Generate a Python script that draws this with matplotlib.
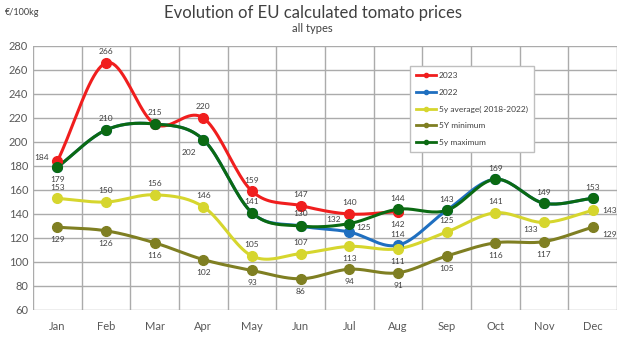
import numpy as np
import matplotlib.pyplot as plt

months = ['Jan', 'Feb', 'Mar', 'Apr', 'May', 'Jun', 'Jul', 'Aug', 'Sep', 'Oct', 'Nov', 'Dec']
prices_2023 = [184, 266, 215, 220, 159, 147, 140, 142]
prices_2022 = [179, 210, 215, 202, 141, 130, 125, 114, 143, 169, 149, 153]
avg_5y = [153, 150, 156, 146, 105, 107, 113, 111, 125, 141, 133, 143]
min_5y = [129, 126, 116, 102, 93, 86, 94, 91, 105, 116, 117, 129]
max_5y = [179, 210, 215, 202, 141, 130, 132, 144, 143, 169, 149, 153]

plt.rcParams['font.family'] = ['Lato', 'DejaVu Sans']


def smooth(y, n=20):
    """ Catmull-Rom curve through the points, for Excel-like smoothed lines """
    y = np.asarray(y, dtype=float)
    x = np.arange(len(y), dtype=float)
    px = np.concatenate([[2 * x[0] - x[1]], x, [2 * x[-1] - x[-2]]])
    py = np.concatenate([[2 * y[0] - y[1]], y, [2 * y[-1] - y[-2]]])
    xs, ys = [], []
    t = np.linspace(0, 1, n, endpoint=False)
    for i in range(1, len(px) - 2):
        for p, out in ((px, xs), (py, ys)):
            p0, p1, p2, p3 = p[i - 1], p[i], p[i + 1], p[i + 2]
            out.extend(0.5 * (2 * p1 + (-p0 + p2) * t
                              + (2 * p0 - 5 * p1 + 4 * p2 - p3) * t ** 2
                              + (-p0 + 3 * p1 - 3 * p2 + p3) * t ** 3))
    xs.append(x[-1]); ys.append(y[-1])
    return np.array(xs), np.array(ys)


fig = plt.figure(figsize=(6.25, 3.42), dpi=100)
ax = fig.add_axes([33 / 625, 32 / 342, 584 / 625, 264 / 342])

series = [
    (prices_2022, '#1F6FC0', '2022'),
    (prices_2023, '#F01E1E', '2023'),
    (avg_5y, '#D6D62E', '5y average( 2018-2022)'),
    (min_5y, '#7F7F22', '5Y minimum'),
    (max_5y, '#0B6A12', '5y maximum'),
]
colors = {}
for vals, col, name in series:
    sx, sy = smooth(vals)
    ax.plot(sx, sy, color=col, lw=2.2, zorder=3, solid_capstyle='round')
    ax.plot(range(len(vals)), vals, 'o', color=col, ms=7, zorder=4)
    colors[name] = col

# data labels: (series, month index, dx, dy) in points
label_spots = [
    (prices_2023, [(0, -11, 3), (1, 0, 8), (2, 0, 8), (3, 0, 8), (4, 0, 8),
                   (5, 0, 8), (6, 0, 8), (7, 0, -9)]),
    (prices_2022, [(6, 10, 3), (7, 0, 8)]),
    (avg_5y, [(0, 0, 8), (1, 0, 8), (2, 0, 8), (3, 0, 8), (4, 0, 8), (5, 0, 8),
              (6, 0, -9), (7, 0, -9), (8, 0, 8), (9, 0, 8), (10, -10, -5),
              (11, 12, 0)]),
    (min_5y, [(0, 0, -9), (1, 0, -9), (2, 0, -9), (3, 0, -9), (4, 0, -9),
              (5, 0, -9), (6, 0, -9), (7, 0, -9), (8, 0, -9), (9, 0, -9),
              (10, 0, -9), (11, 12, -5)]),
    (max_5y, [(0, 0, -9), (1, 0, 8), (3, -10, -9), (4, 0, 8), (5, 0, 9),
              (6, -11, 3), (7, 0, 8), (8, 0, 8), (9, 0, 8), (10, 0, 8),
              (11, 0, 8)]),
]
for vals, spots in label_spots:
    for i, dx, dy in spots:
        ax.annotate(str(vals[i]), (i, vals[i]), xytext=(dx, dy),
                    textcoords='offset points', ha='center', va='center',
                    fontsize=6, color='#404040', zorder=5)

ax.set_xlim(-0.5, 11.5)
ax.set_ylim(60, 280)
ax.set_yticks(np.arange(60, 281, 20))
ax.set_xticks(range(12))
ax.set_xticklabels(months)
ax.set_xticks(np.arange(-0.5, 12, 1), minor=True)
ax.grid(True, which='major', axis='y', color='#ABABAB', lw=1)
ax.grid(True, which='minor', axis='x', color='#ABABAB', lw=1)
ax.tick_params(which='both', length=0, labelsize=8, colors='#595959')
ax.tick_params(axis='x', pad=8)
for s in ax.spines.values():
    s.set_visible(False)

# legend in the order of the original chart
order = ['2023', '2022', '5y average( 2018-2022)', '5Y minimum', '5y maximum']
lines = [plt.Line2D([], [], color=colors[k], lw=2, marker='o', ms=3)
         for k in order]
leg = ax.legend(lines, order, loc='upper left',
                bbox_to_anchor=(377 / 584, 1 - 20 / 264),
                fontsize=6, frameon=True, fancybox=False, labelspacing=1.15,
                handlelength=2.4, handletextpad=0.3, borderpad=0.75,
                edgecolor='#BFBFBF', framealpha=1, borderaxespad=0)
leg.set_zorder(6)
for t in leg.get_texts():
    t.set_color('#404040')

fig.text(0.5, 0.962, 'Evolution of EU calculated tomato prices', ha='center',
         va='center', fontsize=12, color='#404040')
fig.text(0.5, 0.918, 'all types', ha='center', va='center', fontsize=8,
         color='#404040')
fig.text(0.008, 0.962, '€/100kg', ha='left', va='center', fontsize=6.5,
         color='#404040')

plt.savefig('out.png', dpi=100)
